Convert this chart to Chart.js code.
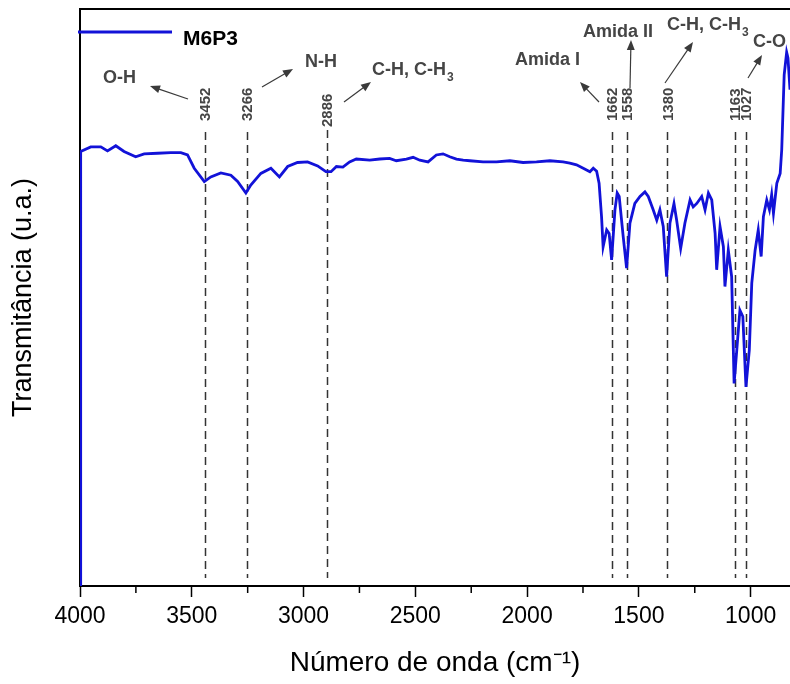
<!DOCTYPE html>
<html>
<head>
<meta charset="utf-8">
<script src="https://cdn.jsdelivr.net/npm/chart.js@4/dist/chart.umd.min.js"></script>
<style>
    html, body { margin: 0; padding: 0; background: #fff; }
    #wrap { width: 790px; height: 684px; }
</style>
</head>
<body>
<div id="wrap"><canvas id="ftirChart" width="790" height="684"></canvas></div>
<script>
// ── Data ─────────────────────────────────────────────────────
const seriesName = "M6P3";

const waveNumbers = [4000, 3997, 3952, 3907, 3877, 3840, 3803, 3751, 3713, 3653, 3594, 3549, 3519, 3489,
    3444, 3415, 3370, 3325, 3295, 3258, 3236, 3191, 3146, 3108, 3071, 3027, 2982, 2937, 2900, 2877,
    2853, 2824, 2794, 2764, 2704, 2659, 2615, 2585, 2540, 2510, 2480, 2443, 2406, 2376, 2346, 2316,
    2286, 2256, 2197, 2137, 2077, 2018, 1958, 1898, 1839, 1809, 1779, 1749, 1719, 1704, 1689, 1678,
    1667, 1660, 1644, 1633, 1622, 1607, 1597, 1588, 1570, 1555, 1540, 1518, 1495, 1473, 1458, 1436,
    1420, 1406, 1391, 1376, 1361, 1343, 1331, 1313, 1294, 1271, 1257, 1241, 1219, 1204, 1189, 1174,
    1159, 1152, 1137, 1122, 1115, 1100, 1085, 1074, 1062, 1048, 1035, 1021, 1006, 995, 980, 966,
    953, 943, 928, 916, 906, 898, 883, 868, 861, 850, 839, 833, 824];

const transmittance = [0, 75.3, 76.1, 76.1, 75.4, 76.3, 75.3, 74.4, 74.9, 75.0, 75.1, 75.1, 74.7, 72.4,
    70.1, 70.9, 71.6, 71.2, 70.1, 68.1, 69.5, 71.5, 72.4, 70.9, 72.7, 73.4, 73.5, 72.8, 71.8, 71.8,
    72.7, 72.6, 73.5, 74.0, 73.8, 74.0, 74.1, 73.7, 74.0, 74.3, 73.8, 73.5, 74.7, 74.9, 74.4, 74.0,
    73.8, 73.7, 73.5, 73.5, 73.7, 73.4, 73.5, 73.7, 73.5, 73.3, 73.0, 72.4, 71.8, 72.4, 71.9, 69.8,
    64.0, 58.8, 61.7, 61.1, 56.5, 65.2, 68.1, 67.5, 60.5, 55.1, 62.9, 66.3, 67.5, 68.3, 67.5, 65.2,
    63.4, 65.2, 62.3, 53.6, 62.9, 66.3, 63.4, 58.5, 62.9, 66.9, 65.7, 66.3, 67.5, 65.2, 68.1, 66.9,
    61.1, 54.8, 62.3, 58.8, 51.9, 58.2, 53.6, 35.1, 40.9, 47.8, 46.7, 34.5, 40.9, 52.5, 58.2, 61.7,
    57.1, 64.0, 66.9, 65.2, 67.8, 64.6, 69.8, 71.5, 75.6, 88.6, 92.5, 91.5, 86.0];

// band markers: where the dashed line sits on the axis, and the label printed on it
const bandPositions = [3443, 3255, 2894, 1621, 1553, 1372, 1072, 1022];
const bandLabels = ["3452", "3266", "2886", "1662", "1558", "1380", "1163", "1027"];

const xMin = 824;
const xMax = 4000;
const majorTicks = [4000, 3500, 3000, 2500, 2000, 1500, 1000];
const minorTicks = [3750, 3250, 2750, 2250, 1750, 1250];

// ── Annotation plugin ────────────────────────────────────────
const LINE_BLUE = "#1212d8";
const NOTE_GREY = "#454545";

function drawArrow(ctx, x1, y1, x2, y2) {
    const ang = Math.atan2(y2 - y1, x2 - x1);
    const len = 10, half = 4;
    ctx.beginPath();
    ctx.moveTo(x1, y1);
    ctx.lineTo(x2 - Math.cos(ang) * len * 0.8, y2 - Math.sin(ang) * len * 0.8);
    ctx.stroke();
    ctx.beginPath();
    ctx.moveTo(x2, y2);
    ctx.lineTo(x2 - Math.cos(ang) * len + Math.sin(ang) * half, y2 - Math.sin(ang) * len - Math.cos(ang) * half);
    ctx.lineTo(x2 - Math.cos(ang) * len - Math.sin(ang) * half, y2 - Math.sin(ang) * len + Math.cos(ang) * half);
    ctx.closePath();
    ctx.fill();
}

const bandPlugin = {
    id: "bandPlugin",
    beforeDatasetsDraw(chart) {
        const { ctx, chartArea: a, scales: { x } } = chart;
        ctx.save();
        ctx.strokeStyle = "#333";
        ctx.lineWidth = 1.5;
        ctx.setLineDash([8, 5]);
        bandPositions.forEach((wn, i) => {
            const px = Math.round(x.getPixelForValue(wn)) + 0.5;
            ctx.beginPath();
            ctx.moveTo(px, i === 2 ? 130 : 132);
            ctx.lineTo(px, a.bottom - 8);
            ctx.stroke();
        });
        ctx.restore();
    },
    afterDatasetsDraw(chart) {
        const { ctx, chartArea: a, scales: { x } } = chart;
        ctx.save();

        // top frame
        ctx.strokeStyle = "#000";
        ctx.lineWidth = 2;
        ctx.beginPath();
        ctx.moveTo(a.left - 1, a.top);
        ctx.lineTo(a.right, a.top);
        ctx.stroke();

        // minor ticks
        ctx.lineWidth = 1.5;
        minorTicks.forEach(v => {
            const px = x.getPixelForValue(v);
            ctx.beginPath();
            ctx.moveTo(px, a.bottom);
            ctx.lineTo(px, a.bottom + 7);
            ctx.stroke();
        });

        // rotated band numbers
        ctx.fillStyle = NOTE_GREY;
        ctx.font = "bold 15px 'Liberation Sans', Arial, sans-serif";
        ctx.textAlign = "left";
        ctx.textBaseline = "middle";
        bandPositions.forEach((wn, i) => {
            const px = x.getPixelForValue(wn);
            ctx.save();
            ctx.translate(px + 1, i === 2 ? 127 : 121);
            ctx.rotate(-Math.PI / 2);
            ctx.fillText(bandLabels[i], 0, 0);
            ctx.restore();
        });

        // group names
        const notes = [
            { t: "O-H", x: 103, y: 78 },
            { t: "N-H", x: 305, y: 62 },
            { t: "C-H, C-H", sub: "3", x: 372, y: 70 },
            { t: "Amida I", x: 515, y: 60 },
            { t: "Amida II", x: 583, y: 32 },
            { t: "C-H, C-H", sub: "3", x: 667, y: 25 },
            { t: "C-O", x: 753, y: 42 },
        ];
        notes.forEach(n => {
            ctx.font = "bold 18px 'Liberation Sans', Arial, sans-serif";
            ctx.fillText(n.t, n.x, n.y);
            if (n.sub) {
                const w = ctx.measureText(n.t).width;
                ctx.font = "bold 12px 'Liberation Sans', Arial, sans-serif";
                ctx.fillText(n.sub, n.x + w + 1, n.y + 8);
            }
        });

        // arrows
        ctx.strokeStyle = "#3a3a3a";
        ctx.fillStyle = "#3a3a3a";
        ctx.lineWidth = 1.2;
        [
            [188, 99, 150, 86],
            [262, 87, 293, 69],
            [344, 102, 371, 82],
            [599, 102, 580, 82],
            [630, 88, 631, 40],
            [665, 83, 693, 42],
            [748, 78, 762, 55],
        ].forEach(([x1, y1, x2, y2]) => drawArrow(ctx, x1, y1, x2, y2));

        // legend
        ctx.strokeStyle = LINE_BLUE;
        ctx.lineWidth = 3;
        ctx.beginPath();
        ctx.moveTo(a.left - 2, 32);
        ctx.lineTo(172, 32);
        ctx.stroke();
        ctx.fillStyle = "#000";
        ctx.font = "bold 21px 'Liberation Sans', Arial, sans-serif";
        ctx.fillText(seriesName, 183, 39);

        ctx.restore();
    }
};

// ── Chart ────────────────────────────────────────────────────
Chart.defaults.font.family = "'Liberation Sans', Arial, sans-serif";
Chart.defaults.color = "#000";

const ctx = document.getElementById("ftirChart").getContext("2d");
new Chart(ctx, {
    type: "line",
    data: {
        datasets: [{
            label: seriesName,
            data: waveNumbers.map((wn, i) => ({ x: wn, y: transmittance[i] })),
            borderColor: LINE_BLUE,
            borderWidth: 2.8,
            pointRadius: 0,
            tension: 0,
            fill: false,
        }],
    },
    options: {
        responsive: false,
        animation: false,
        layout: { padding: { top: 9, right: 0, bottom: 0, left: 0 } },
        plugins: {
            legend: { display: false },
            tooltip: { enabled: false },
        },
        scales: {
            x: {
                type: "linear",
                reverse: true,
                min: xMin,
                max: xMax,
                afterBuildTicks: s => { s.ticks = majorTicks.map(v => ({ value: v })); },
                afterFit: s => { s.height = 98; s.paddingRight = 0; },
                border: { display: true, color: "#000", width: 2 },
                grid: { drawOnChartArea: false, drawTicks: true, tickLength: 11, tickColor: "#000", tickWidth: 1.5 },
                ticks: {
                    autoSkip: false,
                    maxRotation: 0,
                    padding: 6,
                    font: { size: 23 },
                    color: "#000",
                    callback: v => String(v),
                },
                title: {
                    display: true,
                    text: "Número de onda (cm⁻¹)",
                    font: { size: 28 },
                    color: "#000",
                    padding: { top: 0, bottom: 4 },
                },
            },
            y: {
                min: 0,
                max: 100,
                afterFit: s => { s.width = 80; },
                border: { display: true, color: "#000", width: 2 },
                grid: { display: false, drawTicks: false },
                ticks: { display: false },
                title: {
                    display: true,
                    text: "Transmitância (u.a.)",
                    font: { size: 27 },
                    color: "#000",
                    padding: { top: 7, bottom: 0 },
                },
            },
        },
    },
    plugins: [bandPlugin],
});
</script>
</body>
</html>
